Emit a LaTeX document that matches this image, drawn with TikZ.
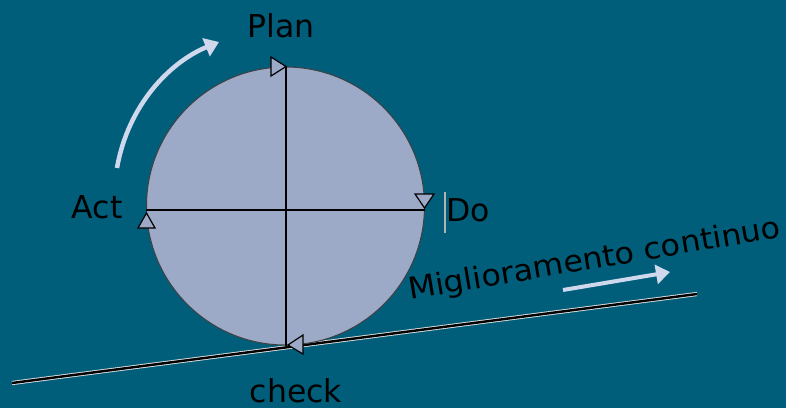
\documentclass[tikz,border=0pt]{standalone}
\usepackage{fontspec}
\usepackage{graphicx}
\setmainfont{DejaVu Sans}
\usetikzlibrary{arrows.meta}
\definecolor{bgteal}{RGB}{0,94,122}
\definecolor{wheelfill}{RGB}{156,170,200}
\definecolor{paleblue}{RGB}{208,216,238}
\tikzset{
  lbl/.style={font=\fontsize{31.5}{31.5}\selectfont, text=black, inner sep=0pt, anchor=base},
  marker/.style={draw=black, line width=1.2pt, fill=wheelfill, line join=miter},
  palearrow/.style={draw=paleblue, line width=4.5pt, -{Triangle[length=14pt,width=19pt]}},
}
\begin{document}
\begin{tikzpicture}[x=1pt,y=-1pt]
\fill[bgteal] (0,0) rectangle (786,408);
\useasboundingbox (0,0) rectangle (786,408);
% ground line
\coordinate (g1) at (12,383);
\coordinate (g2) at (697,294);
\draw[white!75!gray, line width=4.2pt] (g1) -- (g2);
\draw[black, line width=2.4pt] (g1) -- (g2);
% wheel
\node[circle, draw=black!75, line width=1pt, fill=wheelfill, minimum size=278pt, inner sep=0pt] (wheel) at (285.5,206) {};
\coordinate (top) at (286,66);
\coordinate (bot) at (286,346);
\coordinate (lft) at (146,210);
\coordinate (rgt) at (425,210);
\draw[black, line width=1.3pt] (top) -- (bot);
\draw[black, line width=1.3pt] (lft) -- (rgt);
% markers
\draw[marker] (271,57) -- (271,76) -- (286,66.5) -- cycle;
\draw[marker] (415,194) -- (434,194) -- (424.5,208) -- cycle;
\draw[marker] (303,335) -- (303,354) -- (288,345) -- cycle;
\draw[marker] (138,228) -- (155,228) -- (146.5,213) -- cycle;
% labels
\node[lbl] (plan) at (281,37) {Plan};
\node[lbl] (act) at (97,218) {Act};
\node[lbl, anchor=base west] (do) at (446,221) {Do};
\node[lbl] (check) at (296,402) {check};
\draw[gray!60, line width=1.2pt] (445,192) -- (445,233);
\node[font=\fontsize{30}{30}\selectfont, text=black, inner sep=0pt, anchor=base west, rotate=9.6] (mig) at (410,300) {\scalebox{1.06}[1]{Miglioramento continuo}};
% arrows
\coordinate (a1s) at (117,168);
\coordinate (a1e) at (219,42);
\draw[palearrow] (a1s) .. controls (128,105) and (170,62) .. (a1e);
\coordinate (a2s) at (563,290);
\coordinate (a2e) at (670,272);
\draw[palearrow, line width=4pt] (a2s) -- (a2e);
\end{tikzpicture}
\end{document}
